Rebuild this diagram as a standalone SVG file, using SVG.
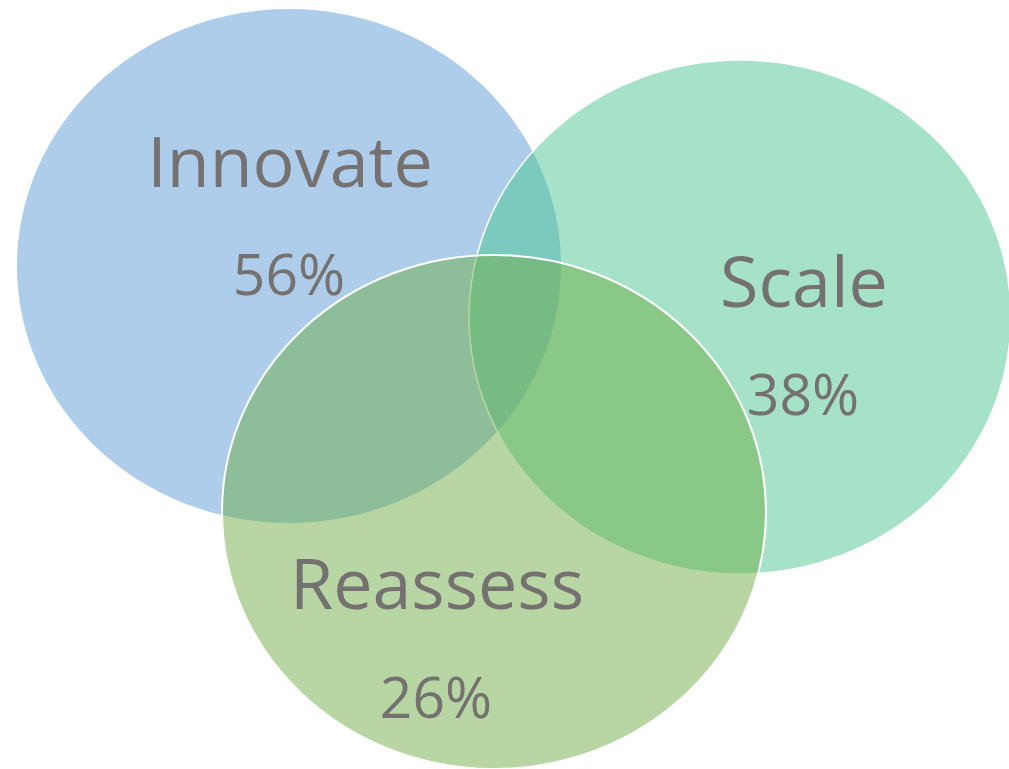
<svg xmlns="http://www.w3.org/2000/svg" width="1009" height="769" viewBox="0 0 1009 769">
  <style>
    .lbl { font-family: "Open Sans", "Noto Sans", "Liberation Sans", sans-serif; fill: #767171; text-anchor: middle; }
    .name { font-size: 70px; }
    .pct { font-size: 57px; }
    .c { fill-opacity: 0.5; }
  </style>
  <rect width="1009" height="769" fill="#ffffff"/>
  <g id="innovate">
    <ellipse class="c" cx="289" cy="266" rx="272" ry="257" fill="#5B9BD5"/>
    <text class="lbl name" x="290" y="187">Innovate</text>
    <text class="lbl pct" x="289" y="295">56%</text>
  </g>
  <g id="scale">
    <ellipse class="c" cx="740" cy="317" rx="271" ry="257" fill="#4BC591" stroke="#ffffff" stroke-width="1.5"/>
    <text class="lbl name" x="804" y="307">Scale</text>
    <text class="lbl pct" x="803" y="415">38%</text>
  </g>
  <g id="reassess">
    <ellipse class="c" cx="494" cy="512" rx="272" ry="257" fill="#70AD47" stroke="#ffffff" stroke-width="2"/>
    <text class="lbl name" x="437" y="609">Reassess</text>
    <text class="lbl pct" x="436" y="718">26%</text>
  </g>
</svg>
